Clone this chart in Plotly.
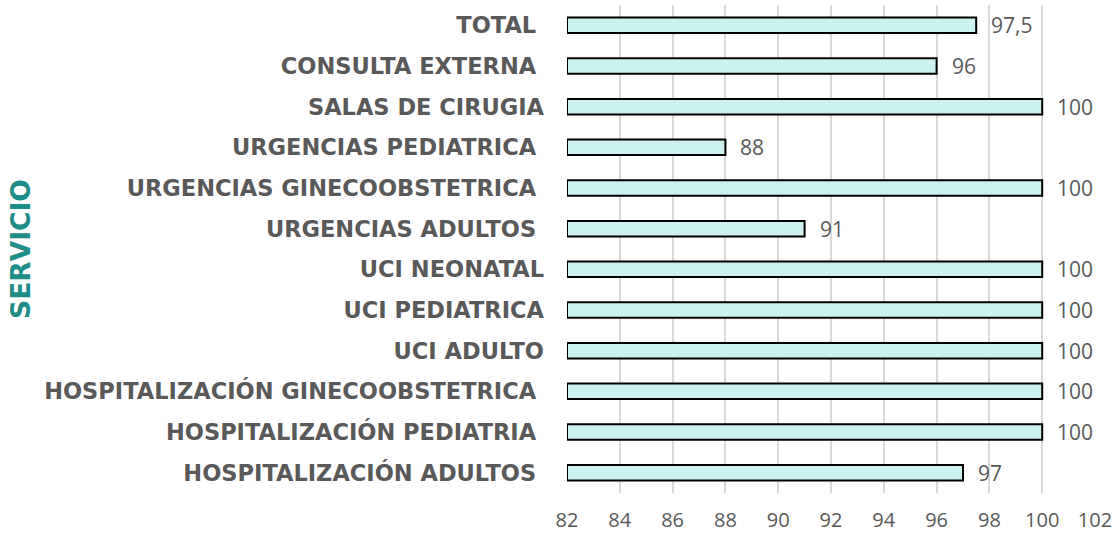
import plotly.graph_objects as go

# Categories bottom-to-top (as plotted)
servicios = [
    "HOSPITALIZACIÓN ADULTOS\u00a0",
    "HOSPITALIZACIÓN PEDIATRIA\u00a0",
    "HOSPITALIZACIÓN GINECOOBSTETRICA\u00a0",
    "UCI ADULTO",
    "UCI PEDIATRICA",
    "UCI NEONATAL",
    "URGENCIAS ADULTOS\u00a0",
    "URGENCIAS GINECOOBSTETRICA\u00a0",
    "URGENCIAS PEDIATRICA\u00a0",
    "SALAS DE CIRUGIA",
    "CONSULTA EXTERNA\u00a0",
    "TOTAL\u00a0",
]
valores = [97, 100, 100, 100, 100, 100, 91, 100, 88, 100, 96, 97.5]
etiquetas = ["97", "100", "100", "100", "100", "100", "91", "100", "88", "100", "96", "97,5"]
x_ticks = [82, 84, 86, 88, 90, 92, 94, 96, 98, 100, 102]
X_MIN = 82

GRAY = "#595959"
TEAL = "#1E8C89"

fig = go.Figure()
fig.add_trace(go.Bar(
    x=[v - X_MIN for v in valores],
    y=servicios,
    base=X_MIN,
    orientation="h",
    marker=dict(color="#CCF2F0", line=dict(color="#000000", width=2)),
    hoverinfo="skip",
))

for v, s, t in zip(valores, servicios, etiquetas):
    fig.add_annotation(
        x=v, y=s, xref="x", yref="y", text=t, showarrow=False,
        xanchor="left", yanchor="middle", xshift=13,
        font=dict(family="Open Sans", size=21, color=GRAY),
    )

fig.update_layout(
    width=1117, height=538,
    margin=dict(l=567, r=20, t=5, b=41),
    plot_bgcolor="white", paper_bgcolor="white",
    bargap=0.62,
    showlegend=False,
    xaxis=dict(
        range=[82, 102], tickvals=x_ticks, ticktext=[str(v) for v in x_ticks],
        showgrid=True, gridcolor="#D9D9D9", gridwidth=1.5,
        zeroline=False, showline=False,
        tickfont=dict(family="Open Sans", size=20, color=GRAY),
        ticklabelstandoff=13,
    ),
    yaxis=dict(
        categoryorder="array", categoryarray=servicios,
        showgrid=False, zeroline=False, showline=False,
        tickfont=dict(family="DejaVu Sans", size=22.5, color=GRAY, weight="bold"),
        ticklabelstandoff=22,
        title=dict(text="SERVICIO", standoff=5,
                   font=dict(family="DejaVu Sans", size=26.5, color=TEAL, weight="bold")),
    ),
)

fig.write_html("out.html", config={"displayModeBar": False},
               post_script="document.body.style.margin='0';")
